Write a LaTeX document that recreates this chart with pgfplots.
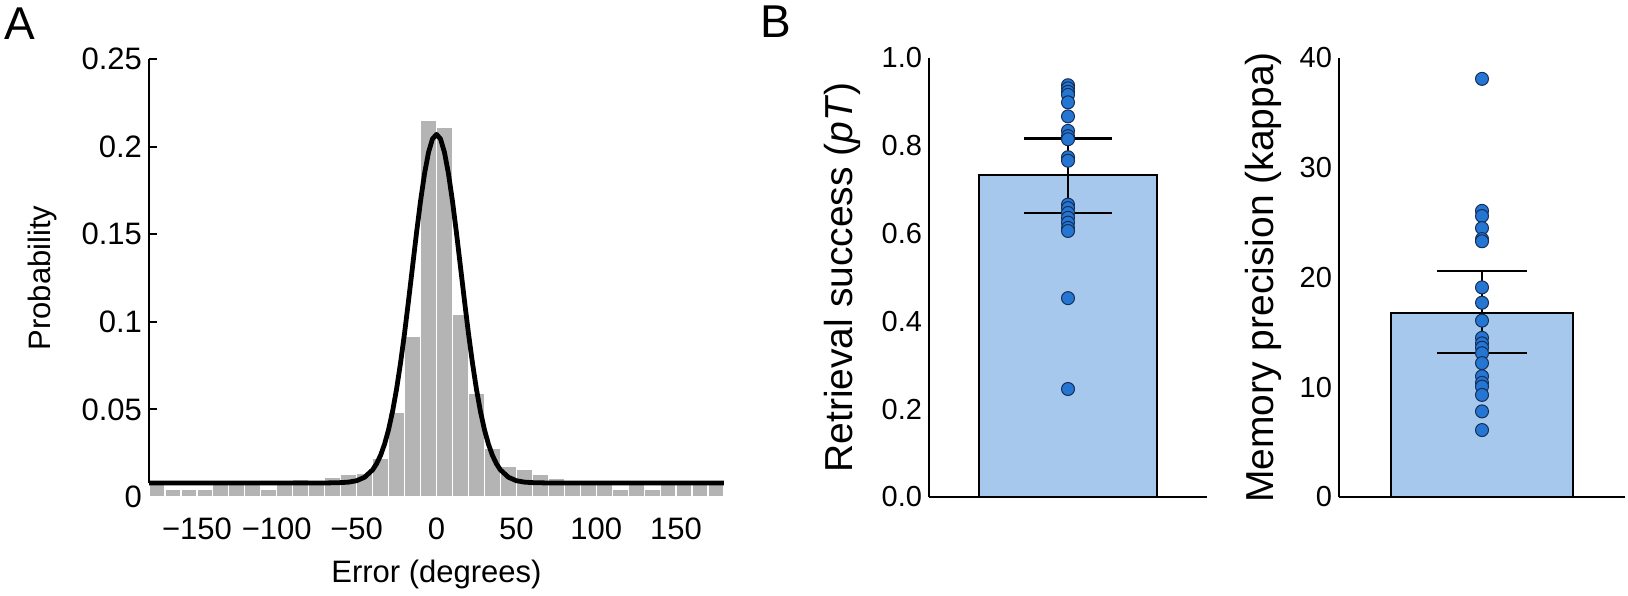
\documentclass[border=0pt]{standalone}
\usepackage{fontspec}
\setmainfont{Liberation Sans}
\usepackage{pgfplots}
\pgfplotsset{compat=1.18}
\definecolor{histgray}{RGB}{180,180,180}
\definecolor{barblue}{RGB}{166,200,236}
\definecolor{dotblue}{RGB}{36,118,210}
\definecolor{dotedge}{RGB}{22,45,85}
\begin{document}
\begin{tikzpicture}
\path[use as bounding box] (0,0) rectangle (814pt,297.5pt);
% Panel A
\begin{axis}[
  at={(74.5pt,49pt)}, anchor=south west,
  scale only axis, width=287.5pt, height=219pt,
  xmin=-180, xmax=180, ymin=0, ymax=0.25,
  axis x line*=bottom, axis y line*=left,
  axis line style={line width=1pt, black},
  tick align=inside, major tick length=4pt,
  tick style={line width=1pt, black},
  xtick={-150,-100,-50,0,50,100,150},
  xticklabels={−150,−100,−50,0,50,100,150},
  ytick={0,0.05,0.1,0.15,0.2,0.25},
  yticklabels={0,0.05,0.1,0.15,0.2,0.25},
  tick label style={font=\fontsize{15.5}{18}\selectfont},
  xticklabel style={yshift=-7pt},
  xlabel={Error (degrees)}, ylabel={Probability},
  label style={font=\fontsize{15.5}{18}\selectfont},
  xlabel style={at={(axis description cs:0.5,-0.178)}, anchor=center},
  ylabel style={at={(axis description cs:-0.186,0.5)}, anchor=center},
  clip=false,
]
\addplot[ybar interval, fill=histgray, draw=white, line width=0.6pt] coordinates {
(-180,0.0075) (-170,0.0046) (-160,0.0046) (-150,0.0046) (-140,0.0075)
(-130,0.0075) (-120,0.0075) (-110,0.0046) (-100,0.0078) (-90,0.0102)
(-80,0.0078) (-70,0.0110) (-60,0.0130) (-50,0.0132) (-40,0.0218)
(-30,0.0485) (-20,0.0918) (-10,0.2148) (0,0.2110) (10,0.1040)
(20,0.0590) (30,0.0277) (40,0.0173) (50,0.0160) (60,0.0131)
(70,0.0106) (80,0.0078) (90,0.0075) (100,0.0075) (110,0.0046)
(120,0.0075) (130,0.0044) (140,0.0075) (150,0.0075) (160,0.0075)
(170,0.0075) (180,0.0075)};
\addplot[black, line width=2.4pt, line join=round] coordinates {
(-180,0.0080) (-70,0.0080) (-60,0.0082) (-55,0.0085) (-50,0.0093) (-45,0.0113)
(-40,0.0155) (-37.5,0.0190) (-35,0.0238) (-32.5,0.0302) (-30,0.0385)
(-27.5,0.0489) (-25,0.0616) (-22.5,0.0766) (-20,0.0935) (-17.5,0.1121)
(-15,0.1315) (-12.5,0.1508) (-10,0.1689) (-7.5,0.1845) (-5,0.1967)
(-2.5,0.2044) (0,0.2070) (2.5,0.2044) (5,0.1967) (7.5,0.1845)
(10,0.1689) (12.5,0.1508) (15,0.1315) (17.5,0.1121) (20,0.0935)
(22.5,0.0766) (25,0.0616) (27.5,0.0489) (30,0.0385) (32.5,0.0302)
(35,0.0238) (37.5,0.0190) (40,0.0155) (45,0.0113) (50,0.0093)
(55,0.0085) (60,0.0082) (70,0.0080) (180,0.0080)};
\end{axis}
% Panel B1
\begin{axis}[
  at={(464.5pt,49pt)}, anchor=south west,
  scale only axis, width=139pt, height=219.5pt,
  xmin=0, xmax=1, ymin=0, ymax=1,
  axis x line*=bottom, axis y line*=left,
  axis line style={line width=1pt, black},
  xtick=\empty, ytick={0,0.2,0.4,0.6,0.8,1},
  yticklabels={0.0,0.2,0.4,0.6,0.8,1.0},
  major tick length=0pt,
  tick label style={font=\fontsize{14.5}{17}\selectfont},
  ylabel={Retrieval success (\textit{pT})},
  ylabel style={font=\fontsize{19.5}{23}\selectfont, at={(axis description cs:-0.313,0.5)}, anchor=center},
  clip=false,
]
\addplot[ybar, bar width=0.64, fill=barblue, draw=black, line width=1pt] coordinates {(0.5,0.733)};
\addplot[only marks, mark=*, mark size=3.25pt, mark options={fill=dotblue, draw=dotedge, line width=0.5pt}] coordinates {
(0.5,0.938) (0.5,0.931) (0.5,0.923) (0.5,0.916) (0.5,0.899) (0.5,0.867)
(0.5,0.834) (0.5,0.822) (0.5,0.815) (0.5,0.774) (0.5,0.766) (0.5,0.666)
(0.5,0.658) (0.5,0.647) (0.5,0.636) (0.5,0.625) (0.5,0.613) (0.5,0.606)
(0.5,0.453) (0.5,0.246)};
\addplot[black, line width=1.2pt] coordinates {(0.5,0.647) (0.5,0.817)};
\addplot[black, line width=1.2pt] coordinates {(0.342,0.817) (0.658,0.817)};
\addplot[black, line width=1.2pt] coordinates {(0.342,0.647) (0.658,0.647)};
\end{axis}
% Panel B2
\begin{axis}[
  at={(669.5pt,49pt)}, anchor=south west,
  scale only axis, width=143pt, height=219.5pt,
  xmin=0, xmax=1, ymin=0, ymax=40,
  axis x line*=bottom, axis y line*=left,
  axis line style={line width=1pt, black},
  xtick=\empty, ytick={0,10,20,30,40},
  yticklabels={0,10,20,30,40},
  major tick length=0pt,
  tick label style={font=\fontsize{14.5}{17}\selectfont},
  ylabel={Memory precision (kappa)},
  ylabel style={font=\fontsize{19.5}{23}\selectfont, at={(axis description cs:-0.266,0.5)}, anchor=center},
  clip=false,
]
\addplot[ybar, bar width=0.633, fill=barblue, draw=black, line width=1pt] coordinates {(0.5,16.8)};
\addplot[only marks, mark=*, mark size=3.25pt, mark options={fill=dotblue, draw=dotedge, line width=0.5pt}] coordinates {
(0.5,38.1) (0.5,26.07) (0.5,25.6) (0.5,24.5) (0.5,23.5) (0.5,23.3)
(0.5,19.1) (0.5,17.7) (0.5,16.07) (0.5,14.5) (0.5,14.0) (0.5,13.6)
(0.5,13.1) (0.5,12.2) (0.5,11.0) (0.5,10.4) (0.5,10.06) (0.5,9.3)
(0.5,7.8) (0.5,6.1)};
\addplot[black, line width=1.2pt] coordinates {(0.5,13.11) (0.5,20.58)};
\addplot[black, line width=1.2pt] coordinates {(0.344,20.58) (0.656,20.58)};
\addplot[black, line width=1.2pt] coordinates {(0.344,13.11) (0.656,13.11)};
\end{axis}
\node[font=\fontsize{23}{26}\selectfont] at (10pt,285.5pt) {A};
\node[font=\fontsize{23}{26}\selectfont] at (388pt,286.5pt) {B};
\end{tikzpicture}
\end{document}
